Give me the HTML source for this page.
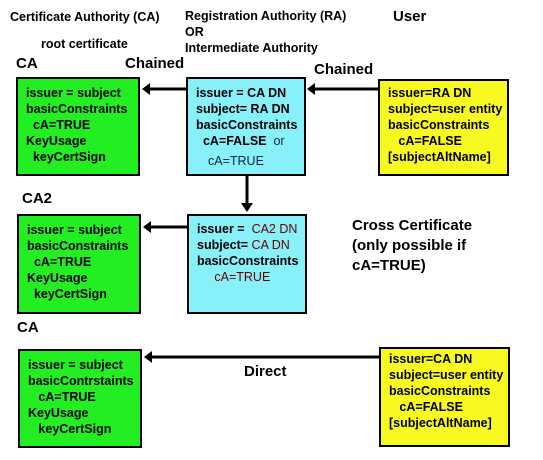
<!DOCTYPE html>
<html><head><style>
body{margin:0;width:543px;height:460px;background:#fff;position:relative;font-family:"Liberation Sans",Arial,sans-serif;font-weight:bold;color:#000;overflow:hidden}
.t{position:absolute;white-space:nowrap;line-height:16px}
.b{position:absolute;border:2px solid #000;box-sizing:border-box}
.g{background:#22ee22}.c{background:#88f0f8}.y{background:#f8f822}
.bx{font-size:12.5px;line-height:16px}
.n{font-weight:normal;color:#600}
.nv{font-weight:normal;color:#124}
</style></head><body>
<div class="t" style="left:10px;top:9px;font-size:12.5px">Certificate Authority (CA)</div>
<div class="t" style="left:185px;top:8px;font-size:12.5px">Registration Authority (RA)<br>OR<br>Intermediate Authority</div>
<div class="t" style="left:393px;top:9px;font-size:15px">User</div>
<div class="t" style="left:41px;top:36px;font-size:12.5px">root certificate</div>
<div class="t" style="left:16px;top:56px;font-size:15px">CA</div>
<div class="t" style="left:125px;top:56px;font-size:15px">Chained</div>
<div class="t" style="left:314px;top:62px;font-size:15px">Chained</div>

<svg style="position:absolute;left:0;top:0" width="543" height="460">
<g stroke="#000" stroke-width="3" fill="#000">
<line x1="186" y1="89" x2="148" y2="89"/><polygon points="142,89 150,83 150,95" stroke="none"/>
<line x1="378" y1="89" x2="313" y2="89"/><polygon points="307,89 315,83 315,95" stroke="none"/>
<line x1="247" y1="176" x2="247" y2="205"/><polygon points="247,212 241,203 253,203" stroke="none"/>
<line x1="187" y1="227" x2="149" y2="227"/><polygon points="143,227 151,221 151,233" stroke="none"/>
<line x1="379" y1="357" x2="150" y2="357"/><polygon points="144,357 152,351 152,363" stroke="none"/>
</g></svg>

<div class="b g bx" style="left:16px;top:77px;width:124px;height:99px;padding:6px 0 0 8px">issuer = subject<br>basicConstraints<br>&nbsp;&nbsp;cA=TRUE<br>KeyUsage<br>&nbsp;&nbsp;keyCertSign</div>
<div class="b c bx" style="left:186px;top:77px;width:120px;height:99px;padding:6px 0 0 8px">issuer = CA DN<br>subject= RA DN<br>basicConstraints<br>&nbsp;&nbsp;cA=FALSE&nbsp; <span class="nv">or</span><br><div style="margin-top:4px;padding-left:12px" class="nv">cA=TRUE</div></div>
<div class="b y bx" style="left:378px;top:79px;width:131px;height:97px;padding:4px 0 0 8px">issuer=RA DN<br>subject=user entity<br>basicConstraints<br>&nbsp;&nbsp;&nbsp;cA=FALSE<br>[subjectAltName]</div>

<div class="t" style="left:22px;top:191px;font-size:15px">CA2</div>
<div class="b g bx" style="left:17px;top:214px;width:124px;height:100px;padding:6px 0 0 8px">issuer = subject<br>basicConstraints<br>&nbsp;&nbsp;cA=TRUE<br>KeyUsage<br>&nbsp;&nbsp;keyCertSign</div>
<div class="b c bx" style="left:187px;top:214px;width:120px;height:100px;padding:5px 0 0 8px">issuer = &nbsp;<span class="n">CA2 DN</span><br>subject= <span class="n">CA DN</span><br>basicConstraints<br>&nbsp;&nbsp;&nbsp;&nbsp;&nbsp;<span class="n">cA=TRUE</span></div>
<div class="t" style="left:352px;top:216px;font-size:15px;line-height:20px">Cross Certificate<br>(only possible if<br>cA=TRUE)</div>

<div class="t" style="left:17px;top:320px;font-size:15px">CA</div>
<div class="b g bx" style="left:18px;top:349px;width:124px;height:99px;padding:6px 0 0 8px">issuer = subject<br>basicContrstaints<br>&nbsp;&nbsp;&nbsp;cA=TRUE<br>KeyUsage<br>&nbsp;&nbsp;&nbsp;keyCertSign</div>
<div class="t" style="left:244px;top:364px;font-size:15px">Direct</div>
<div class="b y bx" style="left:379px;top:347px;width:131px;height:100px;padding:2px 0 0 8px">issuer=CA DN<br>subject=user entity<br>basicConstraints<br>&nbsp;&nbsp;&nbsp;cA=FALSE<br>[subjectAltName]</div>
</body></html>
